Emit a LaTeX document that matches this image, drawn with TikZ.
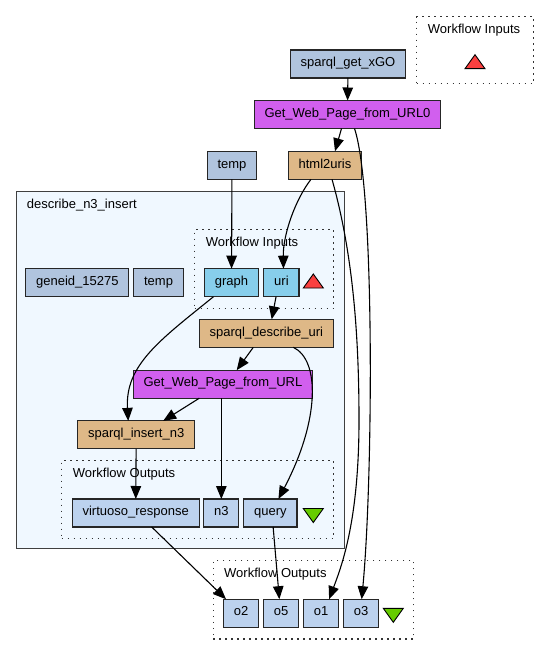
\documentclass[tikz,border=0pt]{standalone}
\usepackage{fontspec}
\setmainfont{Liberation Sans}
\usepackage{xcolor}
\definecolor{constfill}{HTML}{B0C4DE}
\definecolor{workerfill}{HTML}{D15FEE}
\definecolor{scriptfill}{HTML}{DEB887}
\definecolor{infill}{HTML}{87CEEB}
\definecolor{outfill}{HTML}{BCD2EE}
\definecolor{nestfill}{HTML}{F0F8FF}
\definecolor{nestborder}{RGB}{64,64,64}
\definecolor{intri}{RGB}{250,64,64}
\definecolor{outtri}{RGB}{102,204,0}
\usetikzlibrary{calc}
\usetikzlibrary{positioning}
\usetikzlibrary{arrows.meta}
\usetikzlibrary{backgrounds}

\begin{document}
\begin{tikzpicture}[x=1pt,y=-1pt,font=\fontsize{13}{15}\selectfont,
      proc style/.style={rectangle,draw=black!85,line width=1.1pt,minimum
        height=28pt,inner xsep=10.3pt,inner ysep=0pt,outer sep=0pt,text height=9pt,text depth=3.6pt},
      const style/.style={proc style,fill=constfill},
      worker style/.style={proc style,fill=workerfill},
      script style/.style={proc style,fill=scriptfill},
      in style/.style={proc style,fill=infill},
      out style/.style={proc style,fill=outfill},
      port box/.style={rectangle,draw=black!80,line width=1.3pt,dash
        pattern=on 1.3pt off 4.7pt,inner sep=0pt,anchor=north west},
      nest style/.style={rectangle,draw=nestborder,fill=nestfill,line
        width=1.3pt,inner sep=0pt,anchor=north west},
      title style/.style={anchor=base west,inner sep=0pt},
      flow/.style={-{Triangle[length=13pt,width=10.5pt]},line width=1.1pt},
      up mark/.pic={\draw[fill=intri,line width=0.9pt] (-10,7) -- (10,7) -- (0,-7) -- cycle;},
      down mark/.pic={\draw[fill=outtri,line width=0.9pt] (-10,-7) -- (10,-7) -- (0,7) -- cycle;}
      ]
      \useasboundingbox (0,0) rectangle (549,655);

      % top level
      \node[const style] (sparqlget) at (348,64) {sparql\_get\_xGO};
      \node[worker style] (getweb0) at (347.5,114.5) {Get\_Web\_Page\_from\_URL0};
      \node[script style] (html2uris) at (325,165.3) {html2uris};
      \node[const style] (temptop) at (232,165.3) {temp};

      % nested workflow
      \node[const style] (geneid) at (77.3,282.7) {geneid\_15275};
      \node[const style, right=5pt of geneid] (tempin) {temp};
      \node[in style] (graph) at (231.5,282.7) {graph};
      \node[in style, right=5.5pt of graph] (uri) {uri};
      \node[script style] (describe) at (266.3,333.3) {sparql\_describe\_uri};
      \node[worker style] (getweb) at (223,384.2) {Get\_Web\_Page\_from\_URL};
      \node[script style] (insert) at (136.2,434.9) {sparql\_insert\_n3};
      \node[out style] (virtuoso) at (135.7,513) {virtuoso\_response};
      \node[out style, right=4.7pt of virtuoso] (n3) {n3};
      \node[out style, right=5pt of n3] (query) {query};

      % outputs
      \node[out style] (o2) at (241,613.2) {o2};
      \node[out style, right=5pt of o2] (o5) {o5};
      \node[out style, right=5pt of o5] (o1) {o1};
      \node[out style, right=5pt of o1] (o3) {o3};

      \pic at (475,61.7) {up mark};
      \pic at (313.3,281) {up mark};
      \pic at (313.3,515.5) {down mark};
      \pic at (393.3,615.3) {down mark};

      \begin{scope}[on background layer]
        \node[nest style,minimum width=328.3pt,minimum height=357.3pt] (nest) at (15.7,190.7) {};
        \node[port box,minimum width=139pt,minimum height=79pt] (inbox) at (194,229) {};
        \node[port box,minimum width=272pt,minimum height=78pt] (outbox) at (61,460) {};
        \node[port box,minimum width=117pt,minimum height=67pt] (wfin) at (416,16) {};
        \node[port box,minimum width=200.3pt,minimum height=78.3pt] (wfout) at (212.7,560) {};
        \node[title style] (nesttitle) at ($(nest.north west)+(11,17.5)$) {describe\_n3\_insert};
        \node[title style] (intitle) at ($(inbox.north west)+(11.7,17.5)$) {Workflow Inputs};
        \node[title style] (outtitle) at ($(outbox.north west)+(11.7,17.5)$) {Workflow Outputs};
        \node[title style] (wfintitle) at ($(wfin.north west)+(11.7,17.5)$) {Workflow Inputs};
        \node[title style] (wfouttitle) at ($(wfout.north west)+(11.3,17.5)$) {Workflow Outputs};
      \end{scope}

      \draw[flow] (sparqlget) -- (getweb0);
      \draw[flow] ($(getweb0.south)+(-6,0)$) -- ($(html2uris.north)+(10,0)$);
      \draw[flow] ($(getweb0.south)+(7,0)$) .. controls (375,190) and (373,480) .. ($(o3.north)+(0.5,0)$);
      \draw[flow] ($(html2uris.south)+(-14,0)$) .. controls (295,200) and (283,235) .. ($(uri.north)+(2,0)$);
      \draw[flow] ($(html2uris.south)+(7,0)$) .. controls (352,250) and (359,330) .. (359,420)
        .. controls (359,520) and (342,565) .. ($(o1.north)+(8,0)$);
      \draw[flow] (temptop) -- (graph);
      \draw[flow] ($(graph.south)+(-18,0)$) .. controls (160,340) and (125,365) .. ($(insert.north)+(-8,0)$);
      \draw[flow] ($(uri.south)+(-5.4,0)$) -- ($(describe.north)+(5.4,0)$);
      \draw[flow] ($(describe.south)+(-13,0)$) -- ($(getweb.north)+(13.7,0)$);
      \draw[flow] ($(describe.south)+(27,0)$) .. controls (320,360) and (320,420) .. ($(query.north)+(8,0)$);
      \draw[flow] ($(getweb.south)+(-23.7,0)$) -- ($(insert.north)+(27,0)$);
      \draw[flow] (getweb.south -| n3.north) -- (n3.north);
      \draw[flow] (insert) -- (virtuoso);
      \draw[flow] ($(virtuoso.south)+(16,0)$) -- ($(o2.north)+(-15,0)$);
      \draw[flow] ($(query.south)+(2.7,0)$) -- ($(o5.north)+(-1.7,0)$);
    \end{tikzpicture}
\end{document}
